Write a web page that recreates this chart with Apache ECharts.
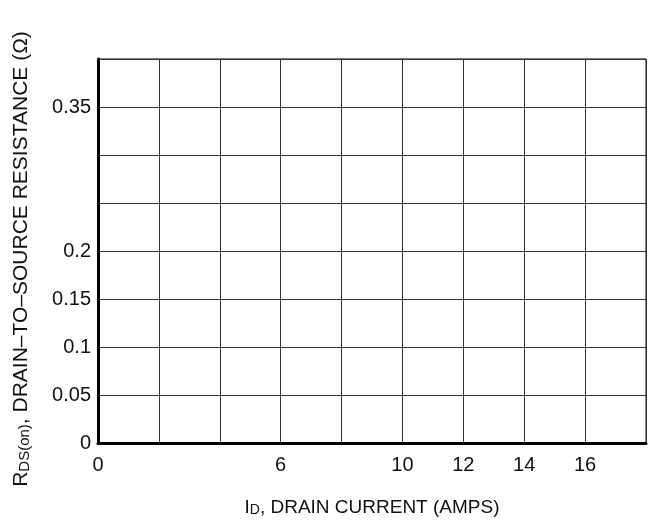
<!DOCTYPE html>
<html>
<head>
<meta charset="utf-8">
<script src="https://cdn.jsdelivr.net/npm/echarts@6/dist/echarts.min.js"></script>
<style>html,body{margin:0;padding:0;background:#fff}#c{width:648px;height:521px}</style>
</head>
<body>
<div id="c"></div>
<script>
const xMin = 0, xMax = 18, xStep = 2;
const yMin = 0, yMax = 0.4, yStep = 0.05;
const xTickLabels = [0, 6, 10, 12, 14, 16];
const yTickLabels = [0, 0.05, 0.1, 0.15, 0.2, 0.35];
const seriesData = [];

const has = (arr, v) => arr.some(a => Math.abs(a - v) < 1e-9);
const chart = echarts.init(document.getElementById('c'));
const font = 'Liberation Sans, Arial, sans-serif';
chart.setOption({
  animation: false,
  grid: { left: 98, right: 2, top: 59, bottom: 78, show: true, borderColor: '#000', borderWidth: 1,
          outerBoundsMode: 'none', containLabel: false },
  xAxis: {
    type: 'value', min: xMin, max: xMax, interval: xStep,
    axisLine: { show: true, lineStyle: { color: '#000', width: 3 } },
    axisTick: { show: false },
    splitLine: { show: true, lineStyle: { color: '#333', width: 1 } },
    axisLabel: { margin: 12, fontSize: 20, color: '#111', fontFamily: font,
      formatter: v => has(xTickLabels, v) ? String(v) : '' },
    name: '{n|I}{s|D}{n|, DRAIN CURRENT (AMPS)}',
    nameLocation: 'middle', nameGap: 51,
    nameTextStyle: { fontFamily: font, color: '#111',
      rich: { n: { fontSize: 19, fontFamily: font, color: '#111', lineHeight: 23, verticalAlign: 'bottom' },
              s: { fontSize: 14, fontFamily: font, color: '#111', lineHeight: 16, verticalAlign: 'bottom' } } }
  },
  yAxis: {
    type: 'value', min: yMin, max: yMax, interval: yStep,
    axisLine: { show: true, lineStyle: { color: '#000', width: 3 } },
    axisTick: { show: false },
    splitLine: { show: true, lineStyle: { color: '#333', width: 1 } },
    axisLabel: { margin: 7, fontSize: 20, color: '#111', fontFamily: font,
      formatter: v => has(yTickLabels, v) ? String(+v.toFixed(2)) : '' },
    name: '{n|R}{s|DS(on)}{n|, DRAIN\u2013TO\u2013SOURCE RESISTANCE (\u03A9)}',
    nameLocation: 'middle', nameGap: 66,
    nameTextStyle: { fontFamily: font, color: '#111', padding: [0, 16, 0, 0],
      rich: { n: { fontSize: 21, fontFamily: font, color: '#111', lineHeight: 25, verticalAlign: 'bottom' },
              s: { fontSize: 15, fontFamily: font, color: '#111', lineHeight: 16, verticalAlign: 'bottom' } } }
  },
  series: [{ type: 'line', data: seriesData, symbol: 'none' }]
});
</script>
</body>
</html>
